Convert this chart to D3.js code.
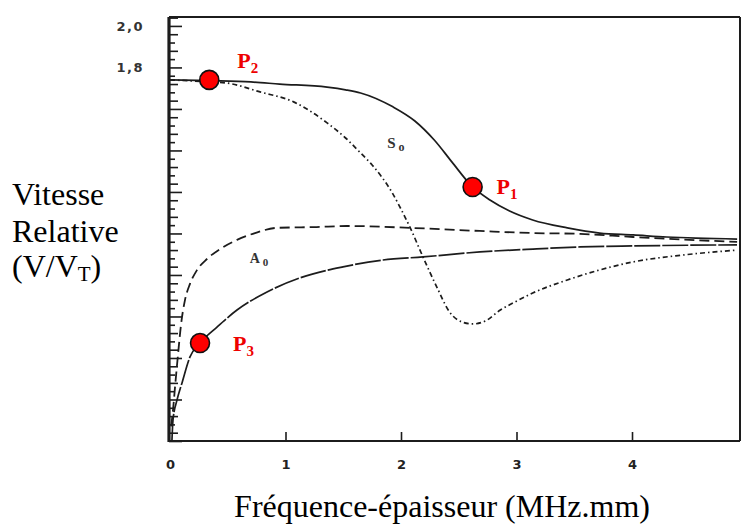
<!DOCTYPE html>
<html>
<head>
<meta charset="utf-8">
<script src="https://cdn.jsdelivr.net/npm/d3@7/dist/d3.min.js"></script>
<style>
  html, body { margin: 0; padding: 0; background: #fff; }
  svg { display: block; }
</style>
</head>
<body>
<svg id="chart" width="744" height="526"></svg>
<script>
// Lamb wave dispersion: relative phase velocity versus frequency-thickness product

// Axis ticks
const xTickValues = [0, 1, 2, 3, 4];
const xTickLabels = ["0", "1", "2", "3", "4"];
const yTickValues = [1.8, 2.0];
const yTickLabels = ["1,8", "2,0"];

// Symmetric mode S0, upper branch (solid)
const s0UpperFd = [0, 0.35, 0.7, 0.95, 1.36, 1.52, 1.65, 1.93, 2.12, 2.29, 2.44, 2.62, 2.77, 2.94, 3.14, 3.44, 3.72, 4.01, 4.3, 4.91];
const s0UpperV  = [1.74, 1.736, 1.73, 1.72, 1.705, 1.692, 1.677, 1.61, 1.542, 1.449, 1.345, 1.224, 1.161, 1.108, 1.065, 1.027, 1.002, 0.993, 0.983, 0.973];

// Symmetric mode S0, lower branch (dash-dot)
const s0LowerFd = [0, 0.35, 0.49, 0.78, 1.07, 1.36, 1.52, 1.65, 1.75, 1.84, 1.92, 1.99, 2.08, 2.19, 2.31, 2.42, 2.53, 2.62, 2.73, 2.86, 2.97, 3.14, 3.44, 3.72, 4.01, 4.44, 4.91];
const s0LowerV  = [1.74, 1.73, 1.725, 1.682, 1.634, 1.533, 1.46, 1.388, 1.33, 1.267, 1.2, 1.128, 1.027, 0.887, 0.742, 0.622, 0.573, 0.564, 0.578, 0.631, 0.665, 0.713, 0.776, 0.824, 0.863, 0.896, 0.92];

// Antisymmetric mode A0, upper branch (dashed)
const a0UpperFd = [0.01, 0.026, 0.045, 0.069, 0.095, 0.13, 0.173, 0.234, 0.32, 0.433, 0.58, 0.736, 0.926, 1.27, 1.53, 2.08, 2.68, 3.14, 3.55, 4.01, 4.91];
const a0UpperV  = [0.07, 0.149, 0.27, 0.414, 0.559, 0.68, 0.757, 0.824, 0.877, 0.925, 0.969, 1.002, 1.027, 1.031, 1.036, 1.027, 1.012, 1.002, 0.998, 0.983, 0.959];

// Antisymmetric mode A0, lower branch (solid)
const a0LowerFd = [0.017, 0.026, 0.061, 0.104, 0.173, 0.26, 0.407, 0.58, 0.84, 1.126, 1.498, 1.844, 2.19, 2.684, 3.143, 3.55, 4.009, 4.909];
const a0LowerV  = [0.005, 0.101, 0.198, 0.28, 0.405, 0.472, 0.549, 0.631, 0.718, 0.786, 0.839, 0.872, 0.887, 0.911, 0.925, 0.935, 0.94, 0.945];

// Highlighted operating points
const pointNames = ["1", "2", "3"];
const pointFd = [2.62, 0.34, 0.26];
const pointV  = [1.224, 1.74, 0.472];

const svg = d3.select("#chart");
const frameLeft = 169, frameRight = 740, frameTop = 17, frameBottom = 441;

const x = d3.scaleLinear().domain([0, 4.935]).range([170, frameRight]);
const y = d3.scaleLinear().domain([0, 2.043]).range([frameBottom, frameTop]);

const ink = "#1c1c1c";
const red = "#ee0000";
const serif = "'Liberation Serif', 'Times New Roman', serif";

// Frame
svg.append("line").attr("x1", frameLeft).attr("x2", frameRight).attr("y1", frameTop).attr("y2", frameTop)
  .attr("stroke", ink).attr("stroke-width", 2);
svg.append("line").attr("x1", frameRight).attr("x2", frameRight).attr("y1", frameTop).attr("y2", frameBottom)
  .attr("stroke", ink).attr("stroke-width", 2);

// Bottom axis with inward ticks
const xAxis = d3.axisBottom(x)
  .tickValues(xTickValues)
  .tickFormat((d, i) => xTickLabels[i])
  .tickSizeInner(-9)
  .tickSizeOuter(0)
  .tickPadding(19);
const gx = svg.append("g").attr("transform", `translate(0,${frameBottom})`).call(xAxis);
gx.select(".domain").attr("stroke", ink).attr("stroke-width", 2.2)
  .attr("d", `M${frameLeft},0H${frameRight}`);
gx.selectAll(".tick line").attr("stroke", ink).attr("stroke-width", 1.6)
  .filter(d => d === 0).remove();
gx.selectAll(".tick text")
  .attr("font-family", "'DejaVu Sans', sans-serif")
  .attr("font-weight", "bold")
  .attr("font-size", 13)
  .attr("fill", "#222");

// Left axis: dense ruler of minor ticks plus labelled values
const minorTicks = d3.range(0, 101).map(i => i * 0.04).filter(v => v <= 2.04);
const yMinor = d3.axisRight(y)
  .tickValues(minorTicks)
  .tickSize(7)
  .tickFormat("");
const gyMinor = svg.append("g").attr("transform", `translate(${frameLeft},0)`).call(yMinor);
gyMinor.select(".domain").remove();
gyMinor.selectAll(".tick line")
  .attr("stroke", ink)
  .attr("stroke-width", 1.6)
  .attr("x2", (d, i) => (Math.round(d * 100) % 20 === 0 ? 13 : (i % 2 ? 9 : 6)));

svg.append("line").attr("x1", frameLeft).attr("x2", frameLeft).attr("y1", frameTop).attr("y2", frameBottom + 1)
  .attr("stroke", ink).attr("stroke-width", 3.2);

const yAxis = d3.axisLeft(y)
  .tickValues(yTickValues)
  .tickFormat((d, i) => yTickLabels[i])
  .tickSize(0)
  .tickPadding(25);
const gy = svg.append("g").attr("transform", `translate(${frameLeft},0)`).call(yAxis);
gy.select(".domain").remove();
gy.selectAll(".tick text")
  .attr("font-family", "'DejaVu Sans', sans-serif")
  .attr("font-weight", "bold")
  .attr("font-size", 13)
  .attr("letter-spacing", 1.5)
  .attr("fill", "#333");

// Dispersion curves
const line = d3.line()
  .x(d => x(d[0]))
  .y(d => y(d[1]))
  .curve(d3.curveMonotoneX);

const curves = [
  { fd: s0UpperFd, v: s0UpperV, dash: null, w: 1.7 },
  { fd: s0LowerFd, v: s0LowerV, dash: "5,3,1.5,3", w: 1.7 },
  { fd: a0UpperFd, v: a0UpperV, dash: "10,5", w: 1.8 },
  { fd: a0LowerFd, v: a0LowerV, dash: "26,2", w: 1.7 }
];

svg.append("g").selectAll("path")
  .data(curves)
  .join("path")
  .attr("d", c => line(c.fd.map((f, i) => [f, c.v[i]])))
  .attr("fill", "none")
  .attr("stroke", ink)
  .attr("stroke-width", c => c.w)
  .attr("stroke-dasharray", c => c.dash);

// Mode names written on the plot
const modeLabels = [
  { base: "S", sub: "o", fd: 1.88, v: 1.41, size: 15 },
  { base: "A", sub: "0", fd: 0.69, v: 0.86, size: 14 }
];
modeLabels.forEach(m => {
  const t = svg.append("text")
    .attr("x", x(m.fd)).attr("y", y(m.v))
    .attr("font-family", serif)
    .attr("font-weight", "bold")
    .attr("font-size", m.size)
    .attr("fill", "#333");
  t.append("tspan").text(m.base);
  t.append("tspan").attr("dx", 3).attr("dy", 3).attr("font-size", m.size - 3).text(m.sub);
});

// Operating points
const points = pointNames.map((n, i) => ({ name: n, fd: pointFd[i], v: pointV[i] }));
const labelOffsets = { "1": [24, 7], "2": [28, -12], "3": [33, 8] };

svg.append("g").selectAll("circle")
  .data(points)
  .join("circle")
  .attr("cx", d => x(d.fd))
  .attr("cy", d => y(d.v))
  .attr("r", 9.5)
  .attr("fill", "#ff0000")
  .attr("stroke", "#111")
  .attr("stroke-width", 1.6);

points.forEach(p => {
  const [dx, dy] = labelOffsets[p.name];
  const t = svg.append("text")
    .attr("x", x(p.fd) + dx).attr("y", y(p.v) + dy)
    .attr("font-family", serif)
    .attr("font-weight", "bold")
    .attr("font-size", 22)
    .attr("fill", red);
  t.append("tspan").text("P");
  t.append("tspan").attr("dy", 5).attr("font-size", 15).text(p.name);
});

// Axis titles
const yTitle = svg.append("text")
  .attr("font-family", serif).attr("font-size", 32).attr("fill", "#000");
yTitle.append("tspan").attr("x", 12).attr("y", 205).text("Vitesse");
yTitle.append("tspan").attr("x", 12).attr("y", 242).text("Relative");
yTitle.append("tspan").attr("x", 12).attr("y", 277).text("(V/V");
yTitle.append("tspan").attr("dy", 4).attr("font-size", 21).text("T");
yTitle.append("tspan").attr("dy", -4).text(")");

svg.append("text")
  .attr("x", 442).attr("y", 517)
  .attr("text-anchor", "middle")
  .attr("font-family", serif).attr("font-size", 32).attr("fill", "#000")
  .text("Fréquence-épaisseur (MHz.mm)");
</script>
</body>
</html>
